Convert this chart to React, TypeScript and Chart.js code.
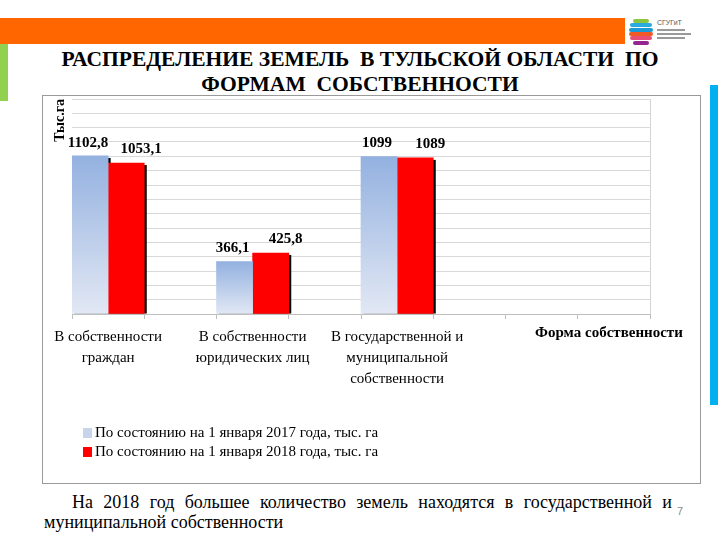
import React, { useEffect, useRef } from 'react';
import { Chart, registerables } from 'chart.js';

Chart.register(...registerables);

// ---------- data ----------
const categories: (string | string[])[] = [
  ['В собственности', 'граждан'],
  '',
  ['В собственности', 'юридических лиц'],
  '',
  ['В государственной и', 'муниципальной', 'собственности'],
  '',
  '',
  '',
];
const values2017: (number | null)[] = [1102.8, null, 366.1, null, 1099, null, null, null];
const values2018: (number | null)[] = [1053.1, null, 425.8, null, 1089, null, null, null];
const seriesLabels = [
  'По состоянию на 1 января 2017 года, тыс. га',
  'По состоянию на 1 января 2018 года, тыс. га',
];
const yAxisTitle = 'Тыс.га';
const xAxisTitle = 'Форма собственности';
const yMin = 0;
const yMax = 1500;
const yStep = 100;

const SERIF = 'Liberation Serif';
const CSERIF = '"Liberation Serif"';
const BLUE_TOP = '#93b1e0';
const BLUE_BOTTOM = '#e2e8f4';
const BLUE_LEGEND = '#c8d4ea';
const RED = '#ff0000';

const fmt = (v: number) => String(v).replace('.', ',');

const shadowPlugin = {
  id: 'barShadow',
  beforeDatasetsDraw(chart: any) {
    const { ctx, chartArea } = chart;
    ctx.save();
    ctx.strokeStyle = '#d4d4d4';
    ctx.lineWidth = 1;
    ctx.beginPath();
    ctx.moveTo(Math.round(chartArea.right) + 0.5, chartArea.top);
    ctx.lineTo(Math.round(chartArea.right) + 0.5, chartArea.bottom);
    ctx.stroke();
    ctx.fillStyle = '#000';
    chart.data.datasets.forEach((ds: any, i: number) => {
      const meta = chart.getDatasetMeta(i);
      meta.data.forEach((el: any, j: number) => {
        if (ds.data[j] == null) return;
        const { x, y, base, width } = el.getProps(['x', 'y', 'base', 'width'], true);
        ctx.fillRect(x - width / 2 + 2.5, y + 2, width, base - y - 2);
      });
    });
    ctx.restore();
  },
};

const labelPlugin = {
  id: 'valueLabels',
  afterDatasetsDraw(chart: any) {
    const { ctx } = chart;
    ctx.save();
    ctx.font = `bold 15px ${CSERIF}`;
    ctx.fillStyle = '#000';
    ctx.textAlign = 'center';
    ctx.textBaseline = 'middle';
    chart.data.datasets.forEach((ds: any, i: number) => {
      const meta = chart.getDatasetMeta(i);
      meta.data.forEach((el: any, j: number) => {
        const v = ds.data[j];
        if (v == null) return;
        const { x, y } = el.getProps(['x', 'y'], true);
        const dx = i === 0 ? -2 : 15;
        const dy = i === 0 ? 13 : 14;
        ctx.fillText(fmt(v), x + dx, y - dy);
      });
    });
    ctx.restore();
  },
};

const legendPlugin = {
  id: 'customLegend',
  afterDraw(chart: any) {
    const { ctx, chartArea } = chart;
    ctx.save();
    const xt = chart.options.scales.x.title.text;
    ctx.font = `bold 15px ${CSERIF}`;
    ctx.fillStyle = '#000';
    ctx.textAlign = 'center';
    ctx.textBaseline = 'middle';
    ctx.fillText(xt, chartArea.right - 41, chartArea.bottom + 19);

    ctx.font = `15px ${CSERIF}`;
    ctx.textAlign = 'left';
    chart.data.datasets.forEach((ds: any, i: number) => {
      const yy = chartArea.bottom + 119 + i * 19;
      ctx.fillStyle = ds.legendColor;
      ctx.fillRect(chartArea.left + 11, yy - 5, 9, 10);
      ctx.fillStyle = '#000';
      ctx.fillText(ds.label, chartArea.left + 23, yy);
    });
    ctx.restore();
  },
};

function ChartBox() {
  const ref = useRef<HTMLCanvasElement | null>(null);
  useEffect(() => {
    if (!ref.current) return;
    const chart = new Chart(ref.current, {
      type: 'bar',
      data: {
        labels: categories as any,
        datasets: [
          {
            label: seriesLabels[0],
            data: values2017,
            legendColor: BLUE_LEGEND,
            backgroundColor: (c: any) => {
              const ch = c.chart;
              if (!ch.chartArea || c.type !== 'data' || c.raw == null) return BLUE_TOP;
              const y = ch.scales.y;
              const top = y.getPixelForValue(c.raw);
              const base = y.getPixelForValue(0);
              const g = ch.ctx.createLinearGradient(0, top, 0, base);
              g.addColorStop(0, BLUE_TOP);
              g.addColorStop(1, BLUE_BOTTOM);
              return g;
            },
          } as any,
          {
            label: seriesLabels[1],
            data: values2018,
            legendColor: RED,
            backgroundColor: RED,
          } as any,
        ],
      },
      options: {
        animation: false,
        responsive: false,
        maintainAspectRatio: false,
        layout: { padding: { left: 0, right: 50, top: 3, bottom: 0 } },
        datasets: { bar: { categoryPercentage: 1, barPercentage: 1 } } as any,
        plugins: {
          legend: { display: false },
          tooltip: { enabled: false },
        },
        scales: {
          x: {
            grid: {
              display: true,
              drawOnChartArea: false,
              drawTicks: true,
              tickLength: 5,
              color: '#bfbfbf',
              offset: true,
            },
            border: { display: true, color: '#bfbfbf' },
            ticks: {
              color: '#000',
              font: { family: SERIF, size: 15, lineHeight: 1.4 },
              padding: 8,
              maxRotation: 0,
              autoSkip: false,
            },
            title: { display: false, text: xAxisTitle },
            afterFit: (s: any) => {
              s.height = 169;
            },
          } as any,
          y: {
            min: yMin,
            max: yMax,
            ticks: { display: false, stepSize: yStep },
            grid: { color: '#d9d9d9', drawTicks: false },
            border: { display: false },
            title: {
              display: true,
              text: yAxisTitle,
              align: 'end',
              color: '#000',
              font: { family: SERIF, size: 14, weight: 'bold', lineHeight: 1.2 },
              padding: { top: 9, bottom: 0 },
            },
            afterFit: (s: any) => {
              s.width = 29;
            },
          } as any,
        },
      },
      plugins: [shadowPlugin, labelPlugin, legendPlugin],
    });
    return () => chart.destroy();
  }, []);
  return <canvas ref={ref} width={657} height={387} style={{ position: 'absolute', left: 0, top: 0, width: 657, height: 387 }} />;
}

function Logo() {
  const stripes = [
    { c: '#8cc63f', w: 16, l: 5 },
    { c: '#29abe2', w: 22, l: 2 },
    { c: '#1b9ad6', w: 24, l: 1 },
    { c: '#f15a24', w: 24, l: 1 },
    { c: '#e94e77', w: 22, l: 2 },
    { c: '#93278f', w: 16, l: 5 },
  ];
  return (
    <div style={{ position: 'absolute', left: 628, top: 17, width: 70, height: 30 }}>
      {stripes.map((s, i) => (
        <div
          key={i}
          style={{
            position: 'absolute',
            left: s.l,
            top: 2 + i * 4.3,
            width: s.w,
            height: 4,
            borderRadius: 2,
            background: s.c,
          }}
        />
      ))}
      <div style={{ position: 'absolute', left: 29, top: 2, fontFamily: 'Liberation Sans', fontSize: 7, color: '#555', lineHeight: '8px' }}>
        СГУГиТ
      </div>
      {[12, 16, 20].map((t, i) => (
        <div key={i} style={{ position: 'absolute', left: 29, top: t, width: i === 1 ? 34 : 28, height: 1.5, background: '#9a9a9a' }} />
      ))}
    </div>
  );
}

export default function App() {
  return (
    <div style={{ position: 'fixed', left: 0, top: 0, width: 720, height: 540, background: '#fff', overflow: 'hidden', fontFamily: SERIF }}>
      <div style={{ position: 'absolute', left: 0, top: 18, width: 625, height: 26, background: '#ff6600' }} />
      <Logo />
      <div style={{ position: 'absolute', left: 0, top: 44, width: 8, height: 57, background: '#92d050' }} />
      <div style={{ position: 'absolute', left: 710, top: 85, width: 8, height: 320, background: '#00b0f0' }} />
      <div
        style={{
          position: 'absolute',
          left: 0,
          top: 47,
          width: 720,
          textAlign: 'center',
          fontFamily: SERIF,
          fontWeight: 'bold',
          fontSize: 20,
          lineHeight: '25px',
          whiteSpace: 'pre',
          color: '#000',
          transform: 'scaleX(1.077)',
          transformOrigin: '360px 0',
        }}
      >
        {'РАСПРЕДЕЛЕНИЕ ЗЕМЕЛЬ  В ТУЛЬСКОЙ ОБЛАСТИ  ПО\nФОРМАМ  СОБСТВЕННОСТИ'}
      </div>
      <div
        style={{
          position: 'absolute',
          left: 42,
          top: 95,
          width: 659,
          height: 389,
          boxSizing: 'border-box',
          border: '1px solid #9a9a9a',
          background: '#fff',
        }}
      >
        <ChartBox />
      </div>
      <div
        style={{
          position: 'absolute',
          left: 44,
          top: 492,
          width: 628,
          fontFamily: SERIF,
          fontSize: 18,
          lineHeight: '20px',
          textAlign: 'justify',
          textIndent: 28,
          color: '#000',
        }}
      >
        На 2018 год большее количество земель находятся в государственной и муниципальной собственности
      </div>
      <div style={{ position: 'absolute', left: 677, top: 505, fontSize: 11, color: '#8a8a8a', fontFamily: 'Liberation Sans' }}>7</div>
    </div>
  );
}
